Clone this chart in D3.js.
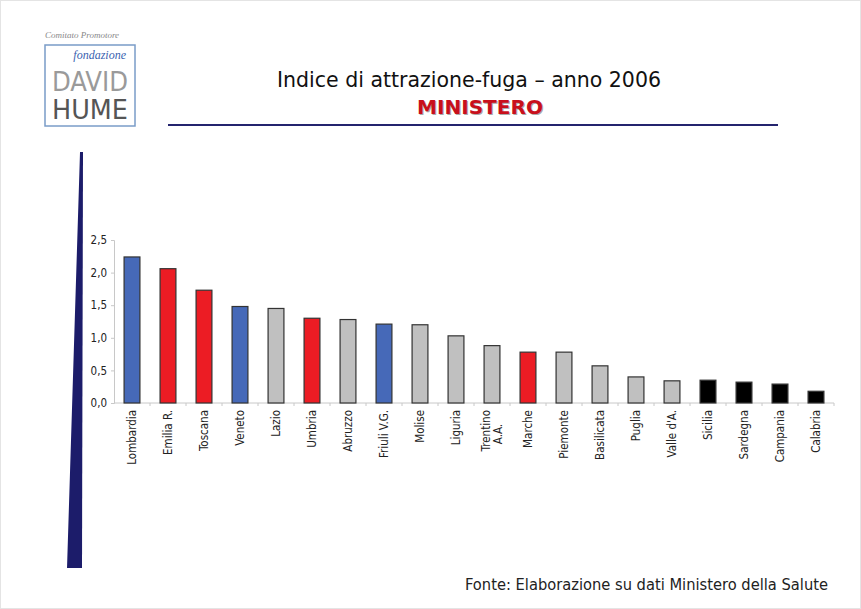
<!DOCTYPE html>
<html>
<head>
<meta charset="utf-8">
<script src="https://cdn.jsdelivr.net/npm/d3@7"></script>
<style>
    body { margin: 0; background: #fff; }
    text { font-family: "DejaVu Sans Condensed", "DejaVu Sans", sans-serif; }
</style>
</head>
<body>
<script>
// data
const regions = ["Lombardia", "Emilia R.", "Toscana", "Veneto", "Lazio", "Umbria", "Abruzzo",
    "Friuli V.G.", "Molise", "Liguria", "Trentino A.A.", "Marche", "Piemonte", "Basilicata",
    "Puglia", "Valle d'A.", "Sicilia", "Sardegna", "Campania", "Calabria"];
const values = [2.24, 2.06, 1.73, 1.48, 1.45, 1.30, 1.28, 1.21, 1.20, 1.03, 0.88, 0.78, 0.78,
    0.57, 0.40, 0.34, 0.35, 0.32, 0.29, 0.18];
const groups = ["blue", "red", "red", "blue", "grey", "red", "grey", "blue", "grey", "grey",
    "grey", "red", "grey", "grey", "grey", "grey", "black", "black", "black", "black"];
const yTicks = [0, 0.5, 1.0, 1.5, 2.0, 2.5];

const groupColor = { blue: "#4669b8", red: "#ec1c24", grey: "#c0c0c0", black: "#000" };

const W = 861, H = 609;
const margin = { top: 240, right: 27, bottom: 206, left: 114 };

const svg = d3.select("body").append("svg")
    .attr("width", W)
    .attr("height", H);

// page frame
svg.append("rect")
    .attr("x", 0.5).attr("y", 0.5)
    .attr("width", W - 1).attr("height", H - 1)
    .attr("fill", "#fff")
    .attr("stroke", "#e4e4e4");

// logo
svg.append("text")
    .attr("x", 45).attr("y", 38)
    .style("font-family", "'Liberation Serif', serif")
    .style("font-style", "italic")
    .style("font-size", "9px")
    .attr("fill", "#888")
    .text("Comitato Promotore");
svg.append("rect")
    .attr("x", 45).attr("y", 45)
    .attr("width", 90).attr("height", 81)
    .attr("fill", "#fff")
    .attr("stroke", "#7a9cc8")
    .attr("stroke-width", 1.5);
svg.append("text")
    .attr("x", 126).attr("y", 59)
    .attr("text-anchor", "end")
    .style("font-family", "'Liberation Serif', serif")
    .style("font-style", "italic")
    .style("font-size", "12px")
    .attr("fill", "#3a62b0")
    .text("fondazione");
svg.append("text")
    .attr("x", 90).attr("y", 91)
    .attr("text-anchor", "middle")
    .attr("textLength", 76).attr("lengthAdjust", "spacingAndGlyphs")
    .style("font-size", "27px")
    .attr("fill", "#9a9a9a")
    .text("DAVID");
svg.append("text")
    .attr("x", 90).attr("y", 119)
    .attr("text-anchor", "middle")
    .attr("textLength", 76).attr("lengthAdjust", "spacingAndGlyphs")
    .style("font-size", "27px")
    .attr("fill", "#555")
    .text("HUME");

// title
svg.append("text")
    .attr("x", 469).attr("y", 87)
    .attr("text-anchor", "middle")
    .attr("textLength", 384).attr("lengthAdjust", "spacingAndGlyphs")
    .style("font-size", "22px")
    .attr("fill", "#111")
    .text("Indice di attrazione-fuga \u2013 anno 2006");
svg.append("text")
    .attr("x", 481).attr("y", 115)
    .attr("text-anchor", "middle")
    .attr("textLength", 126).attr("lengthAdjust", "spacingAndGlyphs")
    .style("font-size", "20px")
    .style("font-weight", "bold")
    .attr("fill", "#aaa")
    .text("MINISTERO");
svg.append("text")
    .attr("x", 480).attr("y", 114)
    .attr("text-anchor", "middle")
    .attr("textLength", 126).attr("lengthAdjust", "spacingAndGlyphs")
    .style("font-size", "20px")
    .style("font-weight", "bold")
    .attr("fill", "#c8101c")
    .text("MINISTERO");
svg.append("line")
    .attr("x1", 168).attr("x2", 778)
    .attr("y1", 125).attr("y2", 125)
    .attr("stroke", "#24246e")
    .attr("stroke-width", 2);

// left wedge
svg.append("path")
    .attr("d", "M80,152 L83,152 L82,568 L67,568 Z")
    .attr("fill", "#1c1c6a");

// chart
const x = d3.scaleBand()
    .domain(regions)
    .range([margin.left, W - margin.right])
    .paddingInner(0.56)
    .paddingOuter(0.28);

const y = d3.scaleLinear()
    .domain([0, 2.5])
    .range([H - margin.bottom, margin.top]);

const fmt = d => d3.format(".1f")(d).replace(".", ",");

const yAxis = svg.append("g")
    .attr("transform", `translate(${margin.left},0)`)
    .call(d3.axisLeft(y).tickValues(yTicks).tickFormat(fmt).tickSize(3).tickPadding(4));
yAxis.select(".domain").attr("stroke", "#c8c8c8");
yAxis.selectAll(".tick line").attr("stroke", "#c8c8c8");
yAxis.selectAll("text")
    .style("font-size", "11.5px")
    .attr("fill", "#222");

// baseline with ticks between categories
const xAxis = svg.append("g")
    .attr("transform", `translate(0,${y(0)})`);
xAxis.append("line")
    .attr("x1", margin.left).attr("x2", W - margin.right)
    .attr("stroke", "#c8c8c8");
xAxis.selectAll("line.sep")
    .data(regions)
    .join("line")
    .classed("sep", true)
    .attr("x1", d => x(d) + x.bandwidth() / 2 + x.step() / 2)
    .attr("x2", d => x(d) + x.bandwidth() / 2 + x.step() / 2)
    .attr("y1", 0).attr("y2", 3)
    .attr("stroke", "#c8c8c8");

svg.selectAll("rect.bar")
    .data(regions)
    .join("rect")
    .classed("bar", true)
    .attr("x", d => x(d))
    .attr("y", (d, i) => y(values[i]))
    .attr("width", x.bandwidth())
    .attr("height", (d, i) => y(0) - y(values[i]))
    .attr("fill", (d, i) => groupColor[groups[i]])
    .attr("stroke", "#333")
    .attr("stroke-width", 1.2);

// category labels, rotated
const labels = svg.selectAll("g.cat")
    .data(regions)
    .join("g")
    .classed("cat", true)
    .attr("transform", d => `translate(${x(d) + x.bandwidth() / 2},${y(0) + 7}) rotate(-90)`);

labels.each(function (d) {
    const g = d3.select(this);
    const parts = d === "Trentino A.A." ? ["Trentino", "A.A."] : [d];
    const lh = 12;
    parts.forEach((p, k) => {
        g.append("text")
            .attr("text-anchor", parts.length > 1 && k === 1 ? "middle" : "end")
            .attr("x", parts.length > 1 && k === 1 ? -24 : 0)
            .attr("y", (k - (parts.length - 1) / 2) * lh)
            .attr("dy", "0.35em")
            .style("font-size", "11.5px")
            .attr("fill", "#222")
            .text(p);
    });
});

// source
svg.append("text")
    .attr("x", 828).attr("y", 590)
    .attr("text-anchor", "end")
    .attr("textLength", 363).attr("lengthAdjust", "spacingAndGlyphs")
    .style("font-size", "15px")
    .attr("fill", "#222")
    .text("Fonte: Elaborazione su dati Ministero della Salute");
</script>
</body>
</html>
